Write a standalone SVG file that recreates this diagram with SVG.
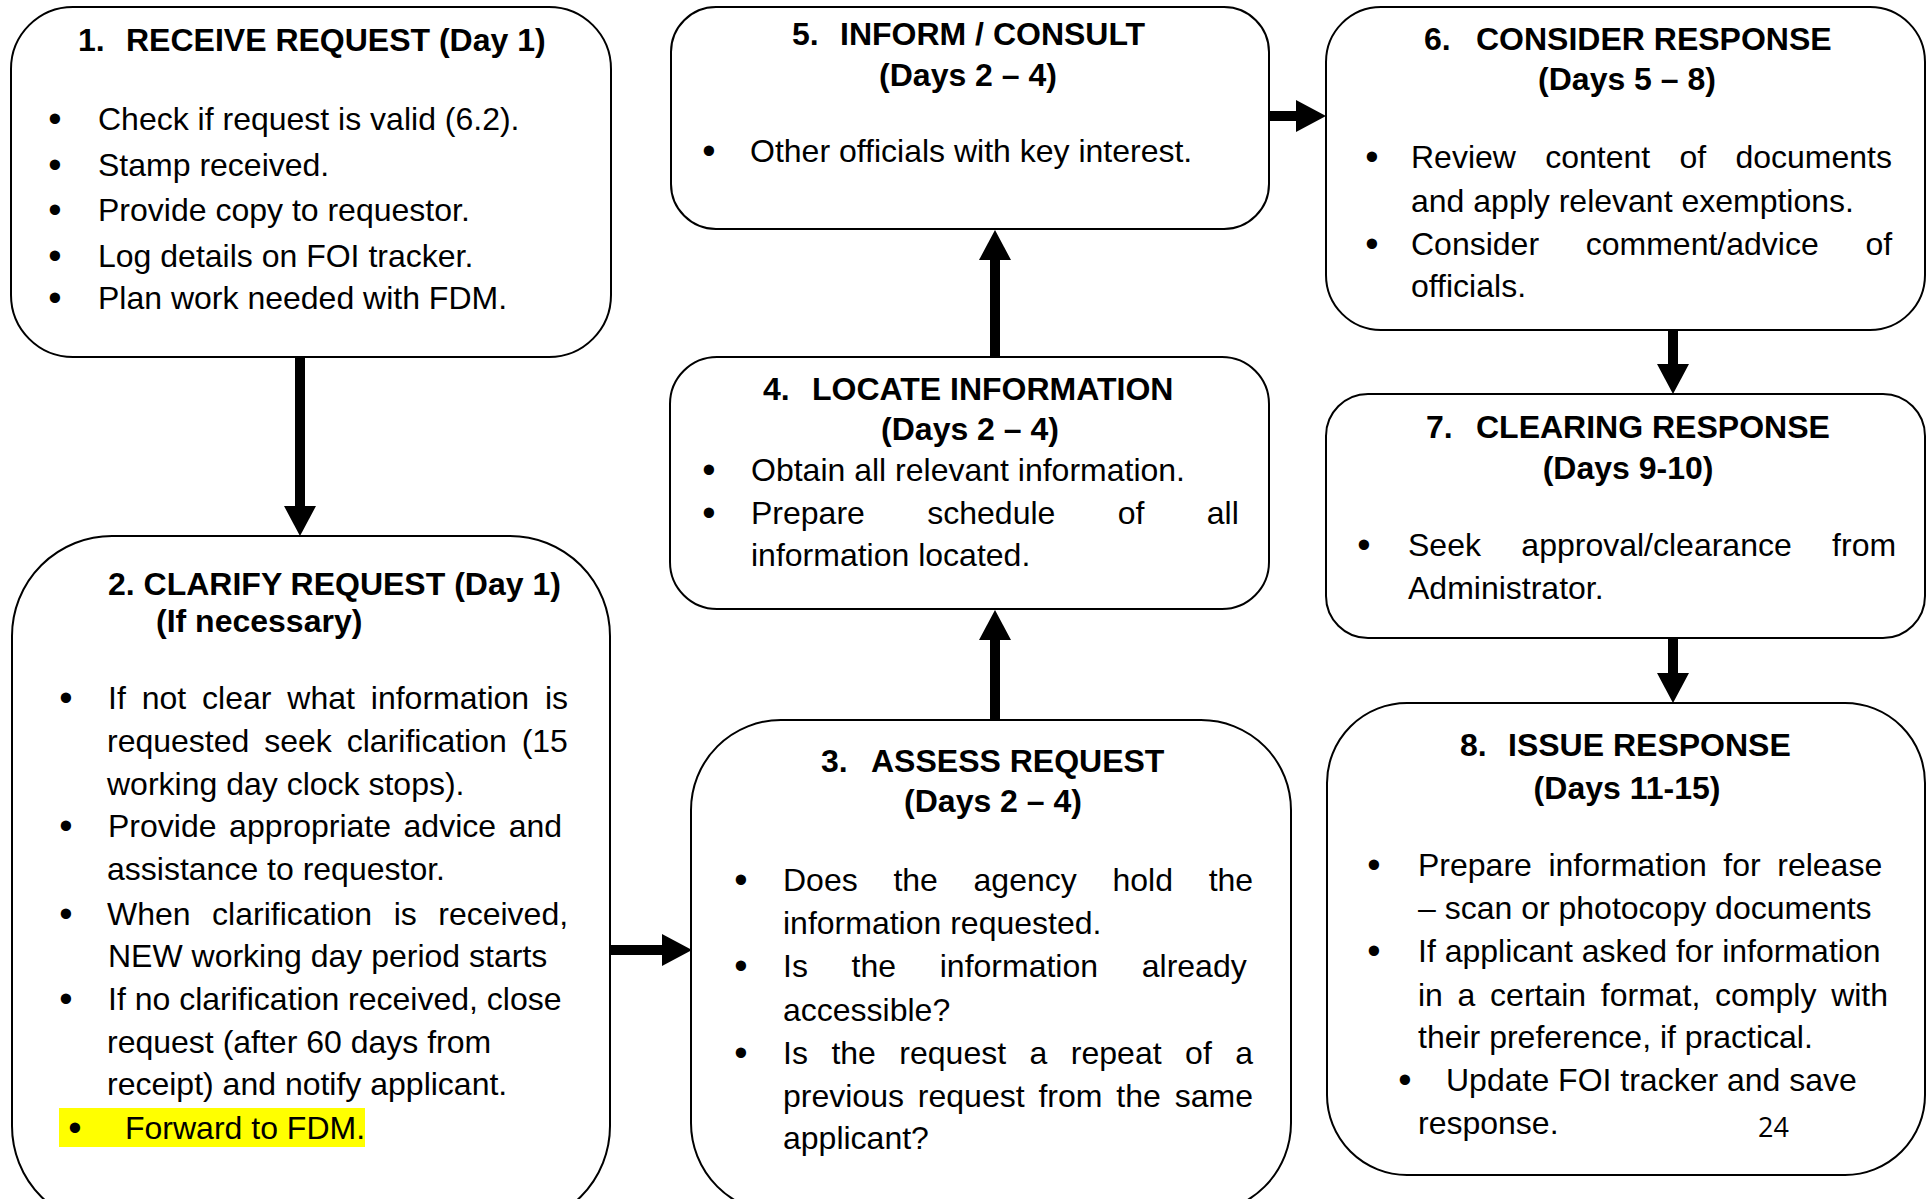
<svg xmlns="http://www.w3.org/2000/svg" width="1929" height="1199" viewBox="0 0 1929 1199">
<defs>
<style>
.box{fill:#fff;stroke:#000;stroke-width:2}
.t{font-family:"Liberation Sans",Arial,sans-serif;font-size:32px;fill:#000}
.b{font-weight:bold}
.c{text-anchor:middle}
.bu{font-family:"Liberation Sans",Arial,sans-serif;font-size:38px;fill:#000;text-anchor:middle}
.conn line{stroke:#000;stroke-width:10}
</style>
<marker id="ah" markerUnits="userSpaceOnUse" markerWidth="30" markerHeight="32" viewBox="0 0 30 32" refX="0" refY="16" orient="auto">
<path d="M0,0 L30,16 L0,32 Z" fill="#000"/>
</marker>
</defs>
<rect width="1929" height="1199" fill="#fff"/>

<g id="connectors" class="conn">
<line x1="300" y1="357" x2="300" y2="506" marker-end="url(#ah)"/>
<line x1="610" y1="950" x2="662" y2="950" marker-end="url(#ah)"/>
<line x1="995" y1="720" x2="995" y2="640" marker-end="url(#ah)"/>
<line x1="995" y1="357" x2="995" y2="260" marker-end="url(#ah)"/>
<line x1="1269" y1="116" x2="1296" y2="116" marker-end="url(#ah)"/>
<line x1="1673" y1="330" x2="1673" y2="364" marker-end="url(#ah)"/>
<line x1="1673" y1="638" x2="1673" y2="673" marker-end="url(#ah)"/>
</g>

<g id="node1">
<rect class="box" x="11" y="7" width="600" height="350" rx="62"/>
<text class="t b" y="51"><tspan x="78">1.</tspan><tspan x="126">RECEIVE REQUEST (Day 1)</tspan></text>
<text class="bu" x="55" y="132">•</text><text class="t" x="98" y="130">Check if request is valid (6.2).</text>
<text class="bu" x="55" y="178">•</text><text class="t" x="98" y="176">Stamp received.</text>
<text class="bu" x="55" y="223">•</text><text class="t" x="98" y="221">Provide copy to requestor.</text>
<text class="bu" x="55" y="269">•</text><text class="t" x="98" y="267">Log details on FOI tracker.</text>
<text class="bu" x="55" y="311">•</text><text class="t" x="98" y="309">Plan work needed with FDM.</text>
</g>

<g id="node2">
<rect class="box" x="12" y="536" width="598" height="690" rx="100"/>
<text class="t b" x="108" y="595">2. CLARIFY REQUEST (Day 1)</text>
<text class="t b" x="156" y="632">(If necessary)</text>
<text class="bu" x="66" y="711">•</text><text class="t" x="108" y="709" style="word-spacing:7px">If not clear what information is</text>
<text class="t" x="107" y="752" style="word-spacing:6px">requested seek clarification (15</text>
<text class="t" x="107" y="795">working day clock stops).</text>
<text class="bu" x="66" y="839">•</text><text class="t" x="108" y="837" style="word-spacing:3.7px">Provide appropriate advice and</text>
<text class="t" x="107" y="880">assistance to requestor.</text>
<text class="bu" x="66" y="927">•</text><text class="t" x="107" y="925" style="word-spacing:12.6px">When clarification is received,</text>
<text class="t" x="108" y="967">NEW working day period starts</text>
<text class="bu" x="66" y="1012">•</text><text class="t" x="108" y="1010">If no clarification received, close</text>
<text class="t" x="107" y="1053">request (after 60 days from</text>
<text class="t" x="107" y="1095">receipt) and notify applicant.</text>
<rect x="59" y="1108" width="306" height="39" fill="#ffff00"/>
<text class="bu" x="75" y="1141">•</text><text class="t" x="125" y="1139">Forward to FDM.</text>
</g>

<g id="node3">
<rect class="box" x="691" y="720" width="600" height="493" rx="90"/>
<text class="t b" y="772"><tspan x="821">3.</tspan><tspan x="871">ASSESS REQUEST</tspan></text>
<text class="t b c" x="993" y="812">(Days 2 – 4)</text>
<text class="bu" x="741" y="893">•</text><text class="t" x="783" y="891" style="word-spacing:26.8px">Does the agency hold the</text>
<text class="t" x="783" y="934">information requested.</text>
<text class="bu" x="741" y="979">•</text><text class="t" x="783" y="977" style="word-spacing:34.8px">Is the information already</text>
<text class="t" x="783" y="1021">accessible?</text>
<text class="bu" x="741" y="1066">•</text><text class="t" x="783" y="1064" style="word-spacing:14.6px">Is the request a repeat of a</text>
<text class="t" x="783" y="1107" style="word-spacing:5px">previous request from the same</text>
<text class="t" x="783" y="1149">applicant?</text>
</g>

<g id="node4">
<rect class="box" x="670" y="357" width="599" height="252" rx="47"/>
<text class="t b" y="400"><tspan x="763">4.</tspan><tspan x="812">LOCATE INFORMATION</tspan></text>
<text class="t b c" x="970" y="440">(Days 2 – 4)</text>
<text class="bu" x="709" y="483">•</text><text class="t" x="751" y="481">Obtain all relevant information.</text>
<text class="bu" x="709" y="526">•</text><text class="t" x="751" y="524" style="word-spacing:53.5px">Prepare schedule of all</text>
<text class="t" x="751" y="566">information located.</text>
</g>

<g id="node5">
<rect class="box" x="671" y="7" width="598" height="222" rx="45"/>
<text class="t b" y="45"><tspan x="792">5.</tspan><tspan x="840">INFORM / CONSULT</tspan></text>
<text class="t b c" x="968" y="86">(Days 2 – 4)</text>
<text class="bu" x="709" y="164">•</text><text class="t" x="750" y="162">Other officials with key interest.</text>
</g>

<g id="node6">
<rect class="box" x="1326" y="7" width="599" height="323" rx="55"/>
<text class="t b" y="50"><tspan x="1424">6.</tspan><tspan x="1476">CONSIDER RESPONSE</tspan></text>
<text class="t b c" x="1627" y="90">(Days 5 – 8)</text>
<text class="bu" x="1372" y="170">•</text><text class="t" x="1411" y="168" style="word-spacing:20.4px">Review content of documents</text>
<text class="t" x="1411" y="212">and apply relevant exemptions.</text>
<text class="bu" x="1372" y="257">•</text><text class="t" x="1411" y="255" style="word-spacing:37.8px">Consider comment/advice of</text>
<text class="t" x="1411" y="297">officials.</text>
</g>

<g id="node7">
<rect class="box" x="1326" y="394" width="599" height="244" rx="42"/>
<text class="t b" y="438"><tspan x="1426">7.</tspan><tspan x="1476">CLEARING RESPONSE</tspan></text>
<text class="t b c" x="1628" y="479">(Days 9-10)</text>
<text class="bu" x="1364" y="558">•</text><text class="t" x="1408" y="556" style="word-spacing:31.5px">Seek approval/clearance from</text>
<text class="t" x="1408" y="599">Administrator.</text>
</g>

<g id="node8">
<rect class="box" x="1327" y="703" width="598" height="472" rx="80"/>
<text class="t b" y="756"><tspan x="1460">8.</tspan><tspan x="1508">ISSUE RESPONSE</tspan></text>
<text class="t b c" x="1627" y="799">(Days 11-15)</text>
<text class="bu" x="1374" y="878">•</text><text class="t" x="1418" y="876" style="word-spacing:7.7px">Prepare information for release</text>
<text class="t" x="1418" y="919">– scan or photocopy documents</text>
<text class="bu" x="1374" y="964">•</text><text class="t" x="1418" y="962">If applicant asked for information</text>
<text class="t" x="1418" y="1006" style="word-spacing:5.8px">in a certain format, comply with</text>
<text class="t" x="1418" y="1048">their preference, if practical.</text>
<text class="bu" x="1405" y="1093">•</text><text class="t" x="1446" y="1091">Update FOI tracker and save</text>
<text class="t" x="1418" y="1134">response.</text>
<text x="1758" y="1137" style="font-family:'Open Sans','Noto Sans',sans-serif;font-size:27px;fill:#000">24</text>
</g>
</svg>
